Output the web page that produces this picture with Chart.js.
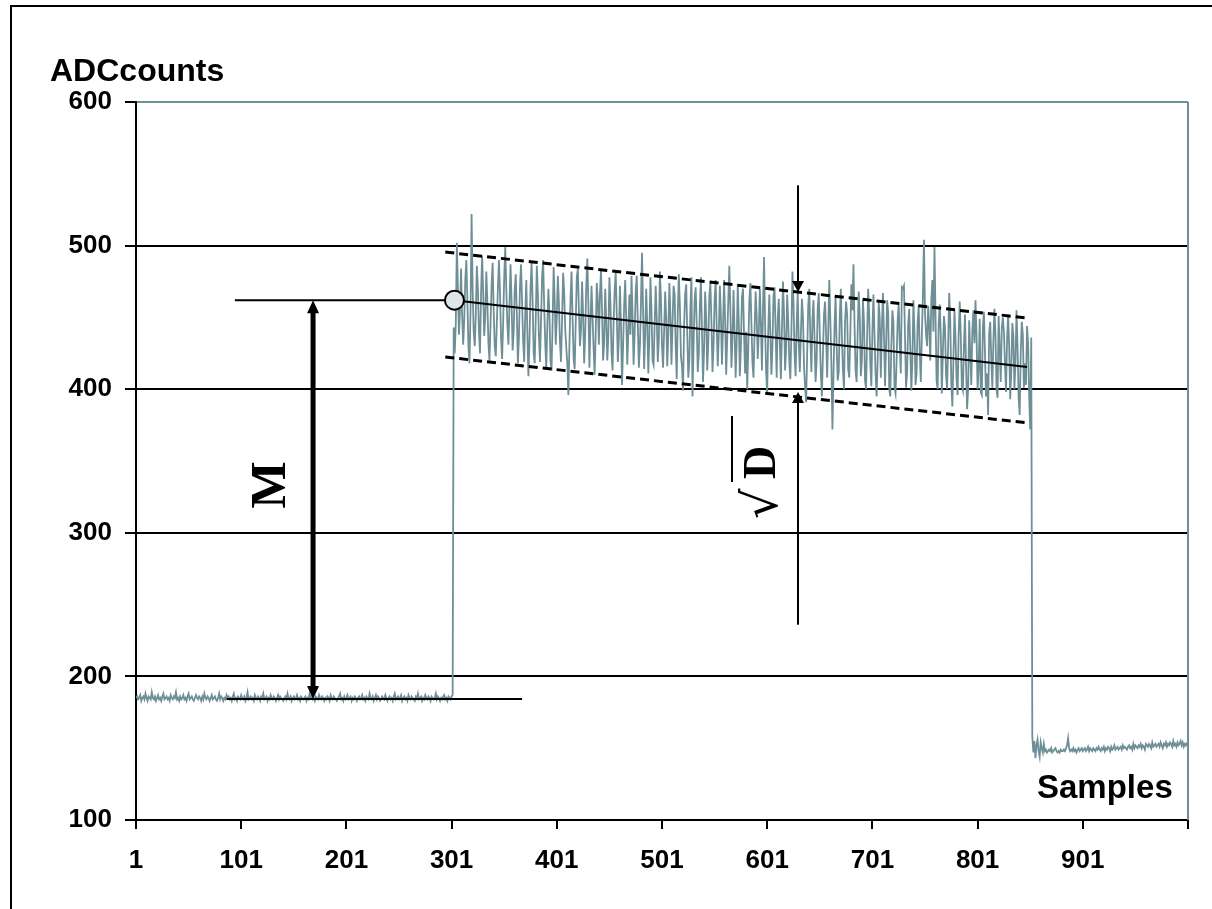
<!DOCTYPE html>
<html>
<head>
<meta charset="utf-8">
<script src="https://cdn.jsdelivr.net/npm/chart.js@4/dist/chart.umd.min.js"></script>
<style>
  html, body { margin: 0; padding: 0; background: #fff; }
  #wrap { position: relative; width: 1212px; height: 909px; }
</style>
</head>
<body>
<div id="wrap"><canvas id="chart" width="1212" height="909"></canvas></div>
<script>
"use strict";

// samples 1..302, before the pulse
const baseBefore = [
  185,186,184,185,187,183,185,186,184,188, 185,183,186,185,184,189,185,184,186,183,
  185,187,184,185,183,186,188,184,185,186, 184,185,183,187,185,184,186,185,189,184,
  185,183,186,184,185,187,184,185,183,186, 188,184,185,186,184,183,185,187,185,184,
  186,185,183,186,184,188,185,184,186,185, 183,185,187,184,185,186,184,183,185,188,
  184,186,185,183,185,184,187,185,186,184, 185,183,186,188,184,185,183,186,185,184,
  187,185,184,186,183,185,189,184,185,186, 184,185,183,187,185,184,186,185,183,186,
  185,188,184,185,186,183,185,184,187,185, 184,186,185,183,185,187,184,186,185,184,
  183,185,186,184,188,185,184,186,183,185, 186,184,185,187,184,185,183,186,185,184,
  185,186,183,185,184,188,185,186,184,185, 183,186,185,184,187,185,184,186,185,183,
  185,184,186,185,183,187,185,184,186,185, 184,183,185,186,188,184,185,183,186,184,
  185,187,184,185,186,183,185,184,186,185, 183,185,186,184,185,187,184,185,183,186,
  185,184,188,185,184,186,183,185,187,184, 186,185,183,184,186,185,184,187,185,183,
  185,186,184,185,183,186,188,184,185,186, 184,185,187,183,185,186,184,185,183,187,
  185,184,186,185,184,183,186,185,188,184, 185,186,183,185,184,187,185,184,186,185,
  183,186,185,184,185,188,184,186,185,183, 185,184,186,187,184,185,183,186,185,184,
  186,187
];

// samples 303..852, the noisy pulse
const pulse = [
  443,425,446,502,470,438,455,484,452,431, 448,476,490,462,430,418,455,522,470,440,
  430,452,486,470,440,425,466,493,468,437, 450,482,461,432,420,445,472,488,455,430,
  423,446,470,490,468,436,421,446,478,499, 470,445,431,458,487,462,427,440,469,480,
  452,418,436,472,487,460,434,419,452,476, 440,409,432,470,488,462,425,418,450,486,
  466,437,419,448,478,490,458,432,414,445, 470,452,420,413,446,485,462,431,450,479,
  460,433,419,448,481,468,442,429,418,396, 430,462,482,450,421,414,447,478,484,455,
  430,441,475,452,418,438,471,491,460,415, 445,472,450,428,410,440,474,462,431,466,
  483,455,420,432,470,448,420,438,478,460, 426,413,447,469,481,452,419,435,472,445,
  403,430,458,476,449,417,440,466,438,479, 452,417,439,468,479,446,415,430,460,495,
  456,414,438,470,445,411,437,478,455,420, 417,445,472,450,419,434,482,463,430,415,
  440,468,450,416,438,474,452,417,445,472, 466,430,407,452,480,458,423,416,399,444,
  466,473,439,408,420,457,478,395,430,462, 471,445,412,425,458,478,440,405,428,468,
  450,413,432,465,474,447,412,430,462,476, 443,416,438,472,451,417,444,476,448,410,
  435,462,486,455,415,436,469,440,408,433, 473,447,409,430,464,470,438,411,440,400,
  428,461,474,446,418,408,440,468,451,421, 439,470,446,413,455,492,445,412,397,441,
  466,438,410,430,465,471,440,408,449,463, 432,407,441,475,452,413,428,466,447,420,
  407,440,482,461,424,409,444,468,432,412, 438,463,450,416,402,391,425,458,470,436,
  412,448,462,435,405,420,456,467,438,410, 395,425,452,461,437,408,440,476,449,418,
  372,409,444,465,430,406,412,451,470,436, 413,400,447,461,452,414,408,438,473,455,
  487,445,413,405,440,468,450,409,420,462, 447,406,400,437,470,451,418,402,440,466,
  438,411,395,420,460,449,408,443,467,438, 402,430,462,453,400,395,430,455,446,401,
  397,420,448,459,431,411,471,470,472,436, 401,412,445,456,428,399,420,462,440,403,
  411,447,458,426,405,437,465,504,453,438, 430,458,445,420,462,476,440,499,452,406,
  400,445,459,438,397,426,451,443,410,400, 431,467,448,404,388,420,455,436,407,396,
  439,461,438,402,399,430,452,417,386,400, 448,426,403,441,455,432,462,437,400,415,
  449,398,396,443,454,425,395,411,382,439, 447,421,401,433,456,438,400,394,451,428,
  405,443,450,440,418,398,434,452,430,393, 412,446,437,400,419,455,429,394,382,425,
  447,438,401,418,403,444,432,396,372,436
];

// samples 853..1000, after the pulse
const baseAfter = [
  158,147,155,143,152,156,148,144,154,150, 147,153,148,149,147,148,149,148,150,147,
  148,149,150,148,147,148,147,149,148,148, 149,148,150,152,157,150,148,149,148,150,
  148,149,147,149,150,148,149,150,148,149, 150,148,149,151,148,150,149,148,150,149,
  148,150,149,151,149,148,150,149,151,148, 150,149,151,150,148,151,149,150,152,149,
  150,151,149,150,151,149,152,150,151,150, 149,151,152,150,151,149,153,150,152,151,
  150,152,151,153,150,152,151,149,153,152, 151,153,152,150,154,151,152,153,151,152,
  153,151,154,152,150,153,152,154,151,153, 152,154,153,151,155,152,153,151,154,152,
  153,155,152,154,151,153,152,154
];

const xTickValues = [1, 101, 201, 301, 401, 501, 601, 701, 801, 901, 1001];
const yTickValues = [100, 200, 300, 400, 500, 600];

// annotation values, in samples / ADC counts
const levelLow = 184.3;
const levelHigh = 462;
const fitLine = [[303.7, 462], [848, 415.5]];
const bandUpper = [[295, 495.5], [849, 449.5]];
const bandLower = [[295, 422.4], [849, 376.5]];
const arrowM = { x: 169.3, from: 462, to: 184.3 };
const arrowD = { x: 630.3, topStart: 542, topTip: 467.7, bottomStart: 236, bottomTip: 398 };

const seriesColor = "#6f8f97";

const samples = baseBefore.concat(pulse, baseAfter);
const points = samples.map((v, i) => ({ x: i + 1, y: v }));

function arrowHead(ctx, x, tipY, dir, len, half) {
  // dir = 1 points down, -1 points up
  ctx.beginPath();
  ctx.moveTo(x, tipY);
  ctx.lineTo(x - half, tipY - dir * len);
  ctx.lineTo(x + half, tipY - dir * len);
  ctx.closePath();
  ctx.fill();
}

function line(ctx, x1, y1, x2, y2) {
  ctx.beginPath();
  ctx.moveTo(x1, y1);
  ctx.lineTo(x2, y2);
  ctx.stroke();
}

const overlay = {
  id: "overlay",
  beforeDatasetsDraw(chart) {
    const ctx = chart.ctx;
    const a = chart.chartArea;
    ctx.save();
    ctx.strokeStyle = seriesColor;
    ctx.lineWidth = 2;
    line(ctx, a.right, a.top, a.right, a.bottom);
    ctx.restore();
  },
  afterDatasetsDraw(chart) {
    const ctx = chart.ctx;
    const sx = chart.scales.x, sy = chart.scales.y;
    const px = v => sx.getPixelForValue(v);
    const py = v => sy.getPixelForValue(v);
    ctx.save();
    ctx.strokeStyle = "#000";
    ctx.fillStyle = "#000";

    // level lines
    ctx.lineWidth = 2;
    line(ctx, px(95), py(levelHigh), px(fitLine[0][0]), py(levelHigh));
    line(ctx, px(87), py(levelLow), px(368), py(levelLow));

    // fitted line
    line(ctx, px(fitLine[0][0]), py(fitLine[0][1]), px(fitLine[1][0]), py(fitLine[1][1]));

    // band
    ctx.lineWidth = 3;
    ctx.setLineDash([9, 5]);
    line(ctx, px(bandUpper[0][0]), py(bandUpper[0][1]), px(bandUpper[1][0]), py(bandUpper[1][1]));
    line(ctx, px(bandLower[0][0]), py(bandLower[0][1]), px(bandLower[1][0]), py(bandLower[1][1]));
    ctx.setLineDash([]);

    // start marker
    ctx.lineWidth = 2;
    ctx.fillStyle = "#dde4ea";
    ctx.beginPath();
    ctx.arc(px(fitLine[0][0]), py(fitLine[0][1]), 9.5, 0, Math.PI * 2);
    ctx.fill();
    ctx.stroke();
    ctx.fillStyle = "#000";

    // M arrow
    const mx = px(arrowM.x);
    ctx.lineWidth = 5;
    line(ctx, mx, py(arrowM.from) + 10, mx, py(arrowM.to) - 10);
    arrowHead(ctx, mx, py(arrowM.from), -1, 13, 6);
    arrowHead(ctx, mx, py(arrowM.to), 1, 13, 6);

    // sqrt(D) arrows
    const dx = px(arrowD.x);
    ctx.lineWidth = 2;
    line(ctx, dx, py(arrowD.topStart), dx, py(arrowD.topTip) - 8);
    arrowHead(ctx, dx, py(arrowD.topTip), 1, 11, 6);
    line(ctx, dx, py(arrowD.bottomStart), dx, py(arrowD.bottomTip) + 8);
    arrowHead(ctx, dx, py(arrowD.bottomTip), -1, 11, 6);

    // M label
    ctx.save();
    ctx.translate(px(130.3), py(333.3));
    ctx.rotate(-Math.PI / 2);
    ctx.font = 'bold 50px "Liberation Serif"';
    ctx.textAlign = "center";
    ctx.textBaseline = "middle";
    ctx.fillText("M", 0, 0);
    ctx.restore();

    // sqrt(D) label
    ctx.save();
    ctx.translate(px(608.4), py(313.8));
    ctx.rotate(-Math.PI / 2);
    ctx.textAlign = "left";
    ctx.textBaseline = "alphabetic";
    ctx.font = '48px "DejaVu Serif"';
    ctx.fillText("\u221A", -6, 2);
    ctx.font = 'bold 46px "Liberation Serif"';
    ctx.fillText("D", 34, 0);
    ctx.lineWidth = 2;
    line(ctx, 31, -43, 97, -43);
    ctx.restore();

    ctx.restore();
  },
  afterDraw(chart) {
    const ctx = chart.ctx;
    ctx.save();
    ctx.fillStyle = "#000";
    ctx.strokeStyle = "#000";
    ctx.lineWidth = 2;
    // outer frame (only left and top visible)
    line(ctx, 11, 6, 11, 909);
    line(ctx, 10, 6, 1212, 6);
    ctx.font = 'bold 32px "Liberation Sans"';
    ctx.textBaseline = "alphabetic";
    ctx.textAlign = "left";
    ctx.fillText("ADCcounts", 50, 81);
    ctx.font = 'bold 33px "Liberation Sans"';
    ctx.fillText("Samples", 1037, 798);
    ctx.restore();
  }
};

const ctx = document.getElementById("chart").getContext("2d");
new Chart(ctx, {
  type: "line",
  data: {
    datasets: [{
      data: points,
      borderColor: seriesColor,
      borderWidth: 1.8,
      pointRadius: 0,
      tension: 0,
      fill: false
    }]
  },
  options: {
    responsive: false,
    animation: false,
    events: [],
    layout: { padding: { top: 102, right: 24, left: 0, bottom: 0 } },
    plugins: { legend: { display: false }, tooltip: { enabled: false } },
    scales: {
      x: {
        type: "linear",
        min: 1,
        max: 1001,
        afterBuildTicks: s => { s.ticks = xTickValues.map(v => ({ value: v })); },
        afterFit: s => { s.height = 89; },
        border: { display: true, color: "#000", width: 2 },
        grid: { drawOnChartArea: false, drawTicks: true, tickLength: 9, tickColor: "#000", lineWidth: 2 },
        ticks: {
          autoSkip: false,
          maxRotation: 0,
          padding: 16,
          color: "#000",
          font: { family: "Liberation Sans", weight: "bold", size: 26 },
          callback: v => (v === 1001 ? "" : String(v))
        }
      },
      y: {
        type: "linear",
        min: 100,
        max: 600,
        afterBuildTicks: s => { s.ticks = yTickValues.map(v => ({ value: v })); },
        afterFit: s => { s.width = 136; },
        border: { display: true, color: "#000", width: 2 },
        grid: {
          color: c => (c.tick && c.tick.value === 600 ? seriesColor : "#000"),
          lineWidth: 2,
          drawTicks: true,
          tickLength: 11,
          tickColor: "#000"
        },
        ticks: {
          padding: 13,
          color: "#000",
          font: { family: "Liberation Sans", weight: "bold", size: 26 }
        }
      }
    }
  },
  plugins: [overlay]
});
</script>
</body>
</html>
